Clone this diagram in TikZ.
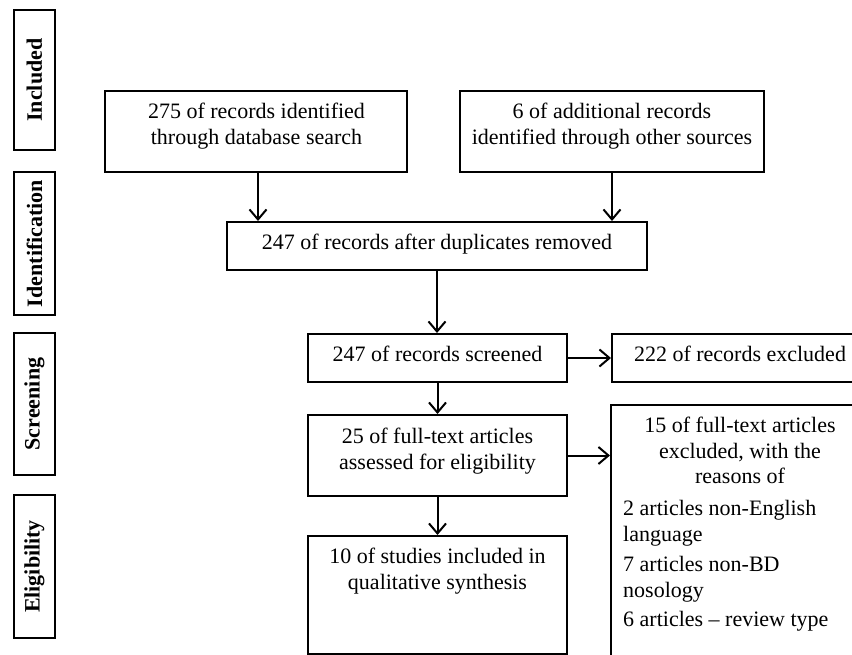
\documentclass[tikz,border=0pt]{standalone}
\usepackage{fontspec}
\setmainfont{Liberation Serif}
\usetikzlibrary{arrows.meta}
\begin{document}
\begin{tikzpicture}[x=1pt,y=-1pt,
  box/.style={draw, line width=2pt, inner sep=0pt},
  txt/.style={font=\fontsize{22}{25.5}\selectfont, inner sep=0pt, align=center},
  txtl/.style={font=\fontsize{22}{25.5}\selectfont, inner sep=0pt, align=left},
  side/.style={draw, line width=2pt, minimum height=41pt, rotate=90, inner sep=0pt,
    font=\bfseries\fontsize{22}{26}\selectfont},
  arr/.style={line width=2pt, -{Straight Barb[length=10pt,width=17pt]}}]
\useasboundingbox (0,0) rectangle (852,655);
\clip (0,0) rectangle (852,655);
\fill[white] (0,0) rectangle (852,655);

% side labels
\node[side, minimum width=140pt] (s1) at (34.5,80) {Included};
\node[side, minimum width=143pt] (s2) at (34.5,243.5) {Identification};
\node[side, minimum width=142pt] (s3) at (34.5,404) {Screening};
\node[side, minimum width=143pt] (s4) at (34.5,566.5) {Eligibility};

% boxes
\node[box, minimum width=302pt, minimum height=81pt] (A) at (256,131.5) {};
\node[box, minimum width=304pt, minimum height=81pt] (B) at (612,131.5) {};
\node[box, minimum width=420pt, minimum height=48pt] (C) at (437,246) {};
\node[box, minimum width=259pt, minimum height=48pt] (D) at (437.5,358) {};
\node[box, minimum width=257pt, minimum height=48pt] (E) at (740.5,358) {};
\node[box, minimum width=259pt, minimum height=81pt] (F) at (437.5,455.5) {};
\node[box, minimum width=258pt, minimum height=315pt] (G) at (740,562.5) {};
\node[box, minimum width=259pt, minimum height=118pt] (H) at (437.5,595) {};

% texts
\node[txt, anchor=north] (At) at (256.5,103) {275 of records identified\\through database search};
\node[txt, anchor=north] (Bt) at (612,103) {6 of additional records\\identified through other sources};
\node[txt, anchor=base] (Ct) at (437,250) {247 of records after duplicates removed};
\node[txt, anchor=base] (Dt) at (437.5,361) {247 of records screened};
\node[txt, anchor=base] (Et) at (740,361) {222 of records excluded};
\node[txt, anchor=north] (Ft) at (437.5,428) {25 of full-text articles\\assessed for eligibility};
\node[txt, anchor=north] (Ht) at (437.5,548) {10 of studies included in\\qualitative synthesis};
\node[txt, anchor=north] (Gt1) at (740,417) {15 of full-text articles\\excluded, with the\\reasons of};
\node[txtl, anchor=north west] (Gt2) at (623,500.5) {2 articles non-English\\language\\[5pt]7 articles non-BD\\nosology\\[4pt]6 articles -- review type};

% connectors
\draw[arr] ([xshift=2pt]A.south) -- ([xshift=2pt]A.south |- C.north);
\draw[arr] (B.south) -- (B.south |- C.north);
\draw[arr] (C.south) -- (C.south |- D.north);
\draw[arr] (D.east) -- (D.east -| E.west);
\draw[arr] (D.south) -- (F.north);
\draw[arr] (F.east) -- (F.east -| G.west);
\draw[arr] (F.south) -- (H.north);
\end{tikzpicture}
\end{document}
